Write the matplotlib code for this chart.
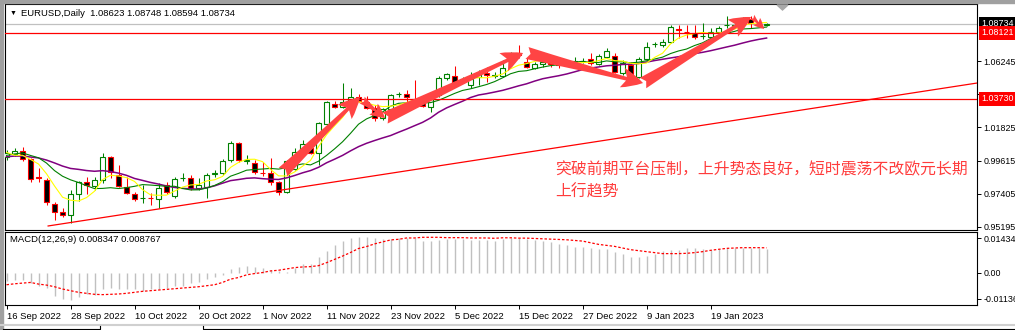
import matplotlib
matplotlib.use("Agg")
import matplotlib.pyplot as plt
import matplotlib.transforms as mtransforms
from matplotlib.patches import FancyArrowPatch, Rectangle, Polygon
from matplotlib.lines import Line2D
import numpy as np
import pandas as pd

plt.rcParams['font.family'] = ['Liberation Sans', 'DejaVu Sans']

# ---- data ----
# daily bars, the broker has no bar on 2 Jan 2023
dates = pd.bdate_range("2022-09-16", periods=96, freq='C', holidays=['2023-01-02'])

open_ = [0.9985, 1.0005, 1.0025, 0.9972, 0.9850, 0.9832, 0.9672, 0.9619, 0.9599, 0.9739,
         0.9819, 0.9792, 0.9832, 0.9985, 0.9865, 0.9786, 0.9739, 0.9709, 0.9712, 0.9706,
         0.9799, 0.9726, 0.9843, 0.9846, 0.9779, 0.9786, 0.9875, 0.9879, 0.9965, 1.0079,
         0.9962, 0.9945, 0.9882, 0.9879, 0.9819, 0.9752, 0.9906, 1.0019, 1.0045, 1.0012,
         1.0205, 1.0338, 1.0318, 1.0352, 1.0385, 1.0352, 1.0312, 1.0245, 1.0305, 1.0402,
         1.0405, 1.0372, 1.0345, 1.0318, 1.0398, 1.0511, 1.0525, 1.0502, 1.0465, 1.0518,
         1.0545, 1.0528, 1.0525, 1.0651, 1.0678, 1.0618, 1.0578, 1.0605, 1.0618, 1.0611,
         1.0605, 1.0611, 1.0622, 1.0638, 1.0605, 1.0651, 1.0658, 1.0545, 1.0598, 1.0518,
         1.0638, 1.0736, 1.0731, 1.0751, 1.0835, 1.0821, 1.0811, 1.0788, 1.0785, 1.0818,
         1.0862, 1.0858, 1.0908, 1.0904, 1.0881, 1.08623]
high = [1.0032, 1.0045, 1.0052, 0.9979, 0.9912, 0.9846, 0.9686, 0.9646, 0.9766, 0.9826,
        0.9852, 0.9852, 1.0012, 0.9992, 0.9932, 0.9852, 0.9752, 0.9799, 0.9746, 0.9812,
        0.9819, 0.9852, 0.9879, 0.9865, 0.9846, 0.9879, 0.9899, 0.9972, 1.0092, 1.0085,
        0.9999, 0.9965, 0.9952, 0.9979, 0.9826, 0.9965, 1.0045, 1.0099, 1.0092, 1.0218,
        1.0358, 1.0358, 1.0478, 1.0445, 1.0405, 1.0392, 1.0332, 1.0312, 1.0405, 1.0418,
        1.0432, 1.0498, 1.0378, 1.0412, 1.0525, 1.0545, 1.0591, 1.0518, 1.0551, 1.0565,
        1.0585, 1.0551, 1.0631, 1.0685, 1.0731, 1.0645, 1.0618, 1.0645, 1.0645, 1.0625,
        1.0625, 1.0651, 1.0645, 1.0678, 1.0671, 1.0711, 1.0678, 1.0631, 1.0618, 1.0651,
        1.0751, 1.0751, 1.0771, 1.0865, 1.0865, 1.0865, 1.0865, 1.0878, 1.0845, 1.0858,
        1.0924, 1.0871, 1.0918, 1.0924, 1.0898, 1.08748]
low = [0.9965, 0.9992, 0.9959, 0.9819, 0.9819, 0.9666, 0.9566, 0.9586, 0.9546, 0.9692,
       0.9739, 0.9766, 0.9812, 0.9846, 0.9786, 0.9739, 0.9692, 0.9679, 0.9666, 0.9646,
       0.9739, 0.9712, 0.9826, 0.9766, 0.9766, 0.9712, 0.9852, 0.9865, 0.9952, 0.9952,
       0.9939, 0.9872, 0.9859, 0.9799, 0.9732, 0.9746, 0.9899, 0.9999, 1.0005, 0.9932,
       1.0198, 1.0312, 1.0312, 1.0345, 1.0352, 1.0305, 1.0225, 1.0232, 1.0298, 1.0385,
       1.0352, 1.0332, 1.0318, 1.0285, 1.0385, 1.0498, 1.0472, 1.0478, 1.0445, 1.0465,
       1.0485, 1.0511, 1.0518, 1.0618, 1.0645, 1.0578, 1.0571, 1.0585, 1.0585, 1.0578,
       1.0591, 1.0605, 1.0611, 1.0598, 1.0598, 1.0645, 1.0545, 1.0531, 1.0525, 1.0511,
       1.0631, 1.0718, 1.0718, 1.0745, 1.0778, 1.0778, 1.0771, 1.0771, 1.0778, 1.0811,
       1.0845, 1.0845, 1.0884, 1.0845, 1.0865, 1.08594]
close = [1.0012, 1.0025, 0.9972, 0.9839, 0.9846, 0.9686, 0.9619, 0.9599, 0.9739, 0.9819,
         0.9799, 0.9832, 0.9985, 0.9885, 0.9792, 0.9746, 0.9706, 0.9712, 0.9709, 0.9779,
         0.9752, 0.9839, 0.9846, 0.9779, 0.9799, 0.9865, 0.9879, 0.9959, 1.0079, 0.9965,
         0.9965, 0.9885, 0.9879, 0.9819, 0.9752, 0.9959, 1.0019, 1.0072, 1.0012, 1.0212,
         1.0352, 1.0318, 1.0352, 1.0385, 1.0358, 1.0312, 1.0245, 1.0305, 1.0398, 1.0405,
         1.0385, 1.0338, 1.0325, 1.0405, 1.0511, 1.0538, 1.0478, 1.0505, 1.0505, 1.0545,
         1.0531, 1.0531, 1.0578, 1.0678, 1.0665, 1.0585, 1.0605, 1.0618, 1.0605, 1.0598,
         1.0618, 1.0625, 1.0625, 1.0611, 1.0658, 1.0691, 1.0551, 1.0611, 1.0538, 1.0638,
         1.0718, 1.0738, 1.0751, 1.0851, 1.0831, 1.0818, 1.0785, 1.0791, 1.0818, 1.0845,
         1.0865, 1.0865, 1.0911, 1.0878, 1.0878, 1.08734]

# closes before the first visible bar, only used to start the moving averages
warmup_close = [0.9943, 0.9967, 0.9968, 0.9971, 0.9966, 1.0003, 1.0016, 1.0054, 0.9944, 0.9955,
                0.9928, 0.9903, 1.0008, 1.0000, 1.0040, 1.0121, 0.9972, 0.9979, 0.9997]

macd_main = [-0.0029, -0.0027, -0.0027, -0.0035, -0.0046, -0.0052, -0.0081, -0.0093, -0.0096, -0.0087,
             -0.0075, -0.0078, -0.0058, -0.0052, -0.0058, -0.0058, -0.0058, -0.0064, -0.0058, -0.0058,
             -0.0052, -0.0046, -0.0046, -0.0035, -0.0031, -0.0023, -0.0015, -0.0008, 0.0012, 0.0020,
             0.0023, 0.0020, 0.0015, 0.0008, 0.0006, 0.0004, 0.0017, 0.0029, 0.0031, 0.0055,
             0.0078, 0.0096, 0.0113, 0.0122, 0.0126, 0.0126, 0.0122, 0.0117, 0.0119, 0.0122,
             0.0124, 0.0124, 0.0113, 0.0113, 0.0115, 0.0117, 0.0117, 0.0117, 0.0115, 0.0115,
             0.0115, 0.0113, 0.0117, 0.0121, 0.0121, 0.0117, 0.0114, 0.0111, 0.0109, 0.0102,
             0.0097, 0.0090, 0.0090, 0.0086, 0.0082, 0.0082, 0.0074, 0.0065, 0.0056, 0.0056,
             0.0059, 0.0067, 0.0077, 0.0079, 0.0081, 0.0086, 0.0086, 0.0084, 0.0081, 0.0084,
             0.0086, 0.0088, 0.0088, 0.0086, 0.0086, 0.008347]
macd_signal = [-0.00423, -0.00389, -0.00365, -0.00342, -0.00400, -0.00435, -0.00493, -0.00574, -0.00632, -0.00690,
               -0.00725, -0.00760, -0.00771, -0.00760, -0.00748, -0.00725, -0.00690, -0.00655, -0.00632, -0.00609,
               -0.00586, -0.00563, -0.00539, -0.00516, -0.00493, -0.00458, -0.00423, -0.00342, -0.00226, -0.00168,
               -0.00075, -0.00029, 0.00006, 0.00064, 0.00087, 0.00133, 0.00180, 0.00203, 0.00215, 0.00249,
               0.00354, 0.00470, 0.00586, 0.00713, 0.00853, 0.00922, 0.01015, 0.01085, 0.01154, 0.01177,
               0.01224, 0.01224, 0.01247, 0.01247, 0.01247, 0.01235, 0.01235, 0.01235, 0.01224, 0.01224,
               0.01224, 0.01212, 0.01230, 0.01230, 0.01218, 0.01218, 0.01206, 0.01195, 0.01183, 0.01172,
               0.01160, 0.01137, 0.01114, 0.01056, 0.00998, 0.00963, 0.00928, 0.00870, 0.00812, 0.00777,
               0.00742, 0.00708, 0.00673, 0.00673, 0.00673, 0.00684, 0.00708, 0.00742, 0.00789, 0.00824,
               0.00858, 0.00870, 0.00882, 0.00882, 0.00882, 0.008767]

bid = 1.08734
levels = [1.08121, 1.03730]
price_ticks = [1.06245, 1.04035, 1.01825, 0.99615, 0.97405, 0.95195]
macd_top, macd_bottom = 0.01434, -0.01136

# support trend line (bar index, price) and the drawn arrows
trend_x = [5.2, 121.3]
trend_y = [0.9526, 1.0478]
arrow_from = [(34.56, 0.9885), (44.44, 1.0365), (47.31, 1.0245), (65.06, 1.0678), (79.56, 1.0478), (93.19, 1.0918)]
arrow_to = [(44.19, 1.0385), (47.31, 1.0245), (64.56, 1.0678), (79.56, 1.0478), (93.06, 1.0918), (94.69, 1.0838)]
arrow_size = [22, 15, 22, 22, 22, 11]

title = "EURUSD,Daily  1.08623 1.08748 1.08594 1.08734"
macd_title = "MACD(12,26,9) 0.008347 0.008767"
note_1 = "突破前期平台压制，上升势态良好，短时震荡不改欧元长期"
note_2 = "上行趋势"

# ---- layout in pixels ----
W, H = 1015, 330
fig = plt.figure(figsize=(W / 100, H / 100), dpi=100)
fig.patch.set_facecolor('white')


def fx(x):
    return x / W


def fy(y):
    return 1 - y / H


ax = fig.add_axes([fx(5), fy(230), fx(977) - fx(5), fy(4) - fy(230)])
axm = fig.add_axes([fx(5), fy(305), fx(977) - fx(5), fy(232) - fy(305)], sharex=ax)

GREEN, RED = '#008000', '#ff0000'
x = np.arange(len(close))
o, h, l, c = map(np.array, (open_, high, low, close))
up = c >= o

# candles
ax.vlines(x, l, h, colors=np.where(up, GREEN, RED), lw=0.75, zorder=2)
body_lo = np.minimum(o, c)
body_h = np.abs(c - o)
ax.bar(x[up], body_h[up], 0.55, bottom=body_lo[up], facecolor='white',
       edgecolor=GREEN, lw=0.8, zorder=3)
ax.bar(x[~up], body_h[~up], 0.55, bottom=body_lo[~up], facecolor='black',
       edgecolor=RED, lw=0.8, zorder=3)

# moving averages
all_close = pd.Series(warmup_close + close)
n0 = len(warmup_close)
for period, col, lw in [(20, '#800080', 1.1), (10, GREEN, 0.8), (5, '#ffff00', 0.8)]:
    ma = all_close.rolling(period).mean().to_numpy()[n0:]
    ax.plot(x, ma, color=col, lw=lw, zorder=4)

# horizontal lines and trend line
ax.axhline(bid, color='#c0c0c0', lw=0.9, zorder=1)
for lv in levels:
    ax.axhline(lv, color=RED, lw=0.9, zorder=5)
ax.plot(trend_x, trend_y, color=RED, lw=0.9, zorder=5)

# arrows
for p0, p1, ms in zip(arrow_from, arrow_to, arrow_size):
    ax.add_patch(FancyArrowPatch(p0, p1,
                 arrowstyle='fancy,head_length=0.7,head_width=0.65,tail_width=0.4',
                 mutation_scale=ms, color='#ff4444', lw=0, shrinkA=0, shrinkB=0,
                 zorder=6))

ax.set_xlim(-0.19, 121.3)
ax.set_ylim(0.94992, 1.10044)
ax.yaxis.tick_right()
ax.set_yticks(price_ticks)
ax.set_yticklabels([f"{v:.5f}" for v in price_ticks])
ax.tick_params(axis='y', direction='out', length=3, width=0.7, pad=1.5, labelsize=6.4)
ax.tick_params(axis='x', bottom=False, labelbottom=False)

trans = mtransforms.blended_transform_factory(ax.transAxes, ax.transData)
ax.text(1.004, bid, f"{bid:.5f}", transform=trans, color='white', fontsize=6.4,
        va='center', ha='left', clip_on=False, zorder=10,
        bbox=dict(boxstyle='square,pad=0.25', fc='black', ec='none'))
for lv in levels:
    ax.text(1.004, lv, f"{lv:.5f}", transform=trans, color='white', fontsize=6.4,
            va='center', ha='left', clip_on=False, zorder=10,
            bbox=dict(boxstyle='square,pad=0.25', fc=RED, ec='none'))

# MACD panel
axm.vlines(x, 0, macd_main, colors='#c0c0c0', lw=1.0)
axm.plot(x, macd_signal, color=RED, lw=0.9, linestyle=(0, (2, 1.5)))
axm.set_ylim(macd_bottom, macd_top)
px_val = (macd_top - macd_bottom) / 73
axm.yaxis.tick_right()
axm.set_yticks([macd_top - 6.5 * px_val, 0, macd_bottom + 6.5 * px_val])
axm.set_yticklabels([f"{macd_top:.5f}", "0.00", f"{macd_bottom:.5f}"])
axm.tick_params(axis='y', direction='out', length=3, width=0.7, pad=1.5, labelsize=6.4)

tick_idx = list(range(0, 96, 8))
axm.set_xticks(tick_idx)
axm.set_xticklabels([f"{dates[i].day} {dates[i]:%b %Y}" for i in tick_idx])
axm.tick_params(axis='x', direction='out', length=3, width=0.7, pad=2, labelsize=6.8)
for lbl in axm.get_xticklabels():
    lbl.set_ha('left')

for a in (ax, axm):
    for sp in a.spines.values():
        sp.set_linewidth(0.8)
        sp.set_color('black')

# texts
fig.text(fx(10), fy(13), '▼', fontsize=5, va='center', ha='left')
fig.text(fx(21), fy(13), title, fontsize=6.8, va='center', ha='left')
fig.text(fx(10), fy(240), macd_title, fontsize=6.8, va='center', ha='left')
cjk = ['Noto Sans CJK SC', 'DejaVu Sans']
fig.text(fx(555), fy(170), note_1, fontsize=11.4, color='#ff3c3c', family=cjk,
         va='center', ha='left')
fig.text(fx(555), fy(192), note_2, fontsize=11.4, color='#ff3c3c', family=cjk,
         va='center', ha='left')

# window chrome
fig.add_artist(Polygon([[fx(777), fy(5)], [fx(788), fy(5)], [fx(782.5), fy(10)]],
                       closed=True, color='#a8a8a8', transform=fig.transFigure))
fig.add_artist(Rectangle((0, 0), fx(3), 1, color='#a0a0a0', transform=fig.transFigure))
fig.add_artist(Rectangle((0, fy(3)), 1, 3 / H, color='#a0a0a0', transform=fig.transFigure))
fig.add_artist(Line2D([0, 1], [fy(325), fy(325)], color='#d0d0d0', lw=1.5,
                      transform=fig.transFigure))
fig.add_artist(Line2D([fx(3), fx(100), fx(100)], [fy(329), fy(329), fy(326)], color='black',
                      lw=0.8, transform=fig.transFigure))
fig.add_artist(Line2D([fx(203), fx(203), 1], [fy(326), fy(329), fy(329)], color='black',
                      lw=0.8, transform=fig.transFigure))

fig.savefig('out.png', dpi=100)
